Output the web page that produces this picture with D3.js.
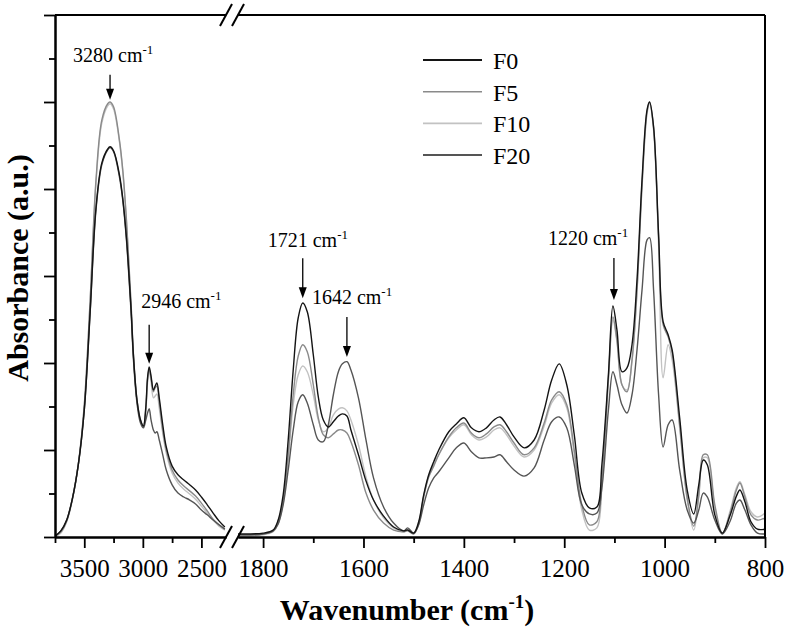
<!DOCTYPE html>
<html><head><meta charset="utf-8">
<script src="https://cdn.jsdelivr.net/npm/d3@7"></script>
<style>
body{margin:0;background:#fff;}
svg{display:block;}
text{font-family:"Liberation Serif","Times New Roman",serif;fill:#000;}
</style>
</head><body><svg id="chart" width="789" height="630"></svg>
<script>
// ---------- DATA ----------
const wnLeft = [3750,3700,3650,3600,3550,3500,3450,3400,3350,3300,3280,3250,3200,3170,3140,3120,3100,3080,3050,3020,2995,2975,2960,2946,2930,2910,2895,2880,2860,2830,2800,2750,2700,2650,2600,2550,2500,2450,2400,2350,2300];
const f0Left  = [0.002,0.014,0.039,0.090,0.168,0.292,0.518,0.757,0.860,0.892,0.897,0.888,0.833,0.775,0.688,0.610,0.522,0.416,0.315,0.269,0.255,0.297,0.366,0.391,0.370,0.338,0.347,0.354,0.320,0.258,0.207,0.163,0.143,0.131,0.120,0.108,0.092,0.074,0.055,0.037,0.023];
const f5Left  = [0.002,0.012,0.037,0.090,0.170,0.304,0.545,0.821,0.959,0.996,1.000,0.989,0.913,0.840,0.729,0.633,0.534,0.419,0.315,0.269,0.255,0.292,0.361,0.386,0.366,0.334,0.343,0.347,0.311,0.246,0.200,0.154,0.131,0.117,0.106,0.094,0.078,0.060,0.041,0.028,0.018];
const f10Left = [0.000,0.009,0.035,0.087,0.168,0.301,0.541,0.814,0.952,0.991,0.996,0.984,0.909,0.835,0.725,0.628,0.529,0.414,0.313,0.267,0.253,0.288,0.354,0.380,0.357,0.320,0.324,0.329,0.297,0.239,0.193,0.147,0.124,0.110,0.099,0.087,0.071,0.055,0.039,0.025,0.016];
const f20Left = [0.002,0.014,0.039,0.090,0.168,0.292,0.515,0.752,0.856,0.890,0.895,0.886,0.828,0.771,0.683,0.603,0.515,0.407,0.308,0.262,0.251,0.269,0.285,0.295,0.269,0.246,0.239,0.242,0.223,0.189,0.154,0.120,0.101,0.092,0.085,0.076,0.062,0.051,0.039,0.028,0.018];

const wnRight = [1850,1800,1780,1770,1760,1750,1740,1730,1721,1712,1700,1690,1680,1670,1660,1650,1642,1633,1625,1610,1595,1580,1560,1540,1520,1512,1500,1490,1480,1470,1460,1450,1430,1415,1400,1385,1370,1355,1340,1328,1315,1300,1280,1260,1240,1225,1210,1195,1180,1165,1150,1135,1125,1112,1103,1095,1085,1075,1065,1055,1045,1035,1030,1022,1012,1003,993,985,970,955,942,932,923,915,900,885,870,857,850,840,828,815,800];
const f0Right = [0.007,0.009,0.016,0.039,0.097,0.223,0.384,0.504,0.538,0.518,
  0.419,0.322,0.269,0.253,0.265,0.278,0.283,0.278,0.246,0.189,
  0.129,0.085,0.048,0.023,0.014,0.016,0.009,0.035,0.097,0.143,
  0.173,0.200,0.242,0.260,0.274,0.251,0.242,0.251,0.269,0.276,
  0.258,0.230,0.205,0.223,0.292,0.361,0.398,0.350,0.235,0.101,
  0.067,0.069,0.166,0.373,0.531,0.476,0.380,0.389,0.442,0.591,
  0.821,0.982,1.000,0.943,0.695,0.495,0.465,0.430,0.274,0.108,
  0.053,0.120,0.177,0.166,0.051,0.009,0.048,0.094,0.108,0.081,
  0.035,0.018,0.018];
const f5Right = [0.005,0.007,0.014,0.035,0.085,0.189,0.327,0.416,0.442,0.426,
  0.350,0.274,0.235,0.228,0.237,0.246,0.246,0.239,0.219,0.166,
  0.101,0.062,0.032,0.016,0.012,0.014,0.007,0.030,0.092,0.138,
  0.163,0.189,0.230,0.251,0.262,0.239,0.228,0.237,0.253,0.258,
  0.242,0.216,0.189,0.205,0.262,0.315,0.334,0.304,0.200,0.074,
  0.028,0.035,0.131,0.366,0.506,0.453,0.350,0.334,0.407,0.568,
  0.810,0.978,1.000,0.941,0.688,0.488,0.460,0.423,0.258,0.090,
  0.025,0.097,0.189,0.189,0.074,0.009,0.053,0.108,0.124,0.092,
  0.051,0.039,0.044];
const f10Right = [0.002,0.005,0.012,0.030,0.078,0.177,0.304,0.373,0.393,0.380,
  0.327,0.269,0.242,0.251,0.281,0.294,0.297,0.290,0.269,0.212,
  0.138,0.085,0.044,0.021,0.012,0.018,0.007,0.032,0.094,0.140,
  0.166,0.189,0.228,0.246,0.258,0.235,0.223,0.230,0.246,0.251,
  0.235,0.209,0.184,0.200,0.255,0.308,0.327,0.297,0.189,0.062,
  0.016,0.021,0.113,0.357,0.499,0.449,0.350,0.338,0.403,0.564,
  0.803,0.973,0.996,0.936,0.672,0.366,0.442,0.407,0.251,0.085,
  0.016,0.090,0.182,0.182,0.067,0.007,0.058,0.113,0.127,0.097,
  0.058,0.046,0.055];
const f20Right = [0.005,0.007,0.014,0.030,0.074,0.154,0.246,0.311,0.327,0.308,
  0.258,0.223,0.219,0.258,0.327,0.380,0.398,0.403,0.384,0.320,
  0.223,0.136,0.069,0.032,0.014,0.021,0.009,0.028,0.074,0.113,
  0.136,0.150,0.182,0.205,0.216,0.196,0.182,0.182,0.184,0.189,
  0.173,0.154,0.140,0.159,0.223,0.265,0.276,0.251,0.166,0.074,
  0.053,0.055,0.113,0.292,0.380,0.350,0.304,0.285,0.327,0.430,
  0.568,0.683,0.688,0.568,0.327,0.207,0.258,0.269,0.154,0.062,
  0.032,0.062,0.101,0.092,0.039,0.007,0.035,0.078,0.085,0.062,
  0.028,0.009,0.007];

const seriesNames = ["F0","F5","F10","F20"];
const seriesColors = ["#141414","#8a8a8a","#c2c2c2","#555555"];

const yMajorTicks = [0,0.2,0.4,0.6,0.8,1.0,1.2];
const yMinorTicks = [0.1,0.3,0.5,0.7,0.9,1.1];
const xLeftMajor = [3500,3000,2500];
const xLeftMinor = [3750,3250,2750];
const xRightMajor = [1800,1600,1400,1200,1000,800];
const xRightMinor = [1700,1500,1300,1100,900];

const annLabels = ["3280","2946","1721","1642","1220"];
const annPanel  = ["L","L","R","R","R"];
const annWn     = [3280,2946,1721,1633,1101];
const annTipA   = [1.005,0.398,0.549,0.414,0.545];

// ---------- LAYOUT ----------
const svg = d3.select("#chart");
const plotTop = 15, plotBottom = 537;
const y = d3.scaleLinear().domain([0,1.2]).range([plotBottom, plotTop]);
const xL = d3.scaleLinear().domain([3750,2290]).range([55,226]);
const xR = d3.scaleLinear().domain([1850,800]).range([238,765]);

const leftData = [f0Left,f5Left,f10Left,f20Left];
const rightData = [f0Right,f5Right,f10Right,f20Right];

const defs = svg.append("defs");
defs.append("clipPath").attr("id","clipL").append("rect").attr("x",55).attr("y",plotTop).attr("width",171).attr("height",plotBottom-plotTop);
defs.append("clipPath").attr("id","clipR").append("rect").attr("x",238).attr("y",plotTop).attr("width",527).attr("height",plotBottom-plotTop);

function mkLine(xs){
  return d3.line().x(d=>xs(d[0])).y(d=>y(d[1])).curve(d3.curveCatmullRom.alpha(0.5));
}
const drawOrder = [2,1,3,0];
const gL = svg.append("g").attr("clip-path","url(#clipL)");
const gR = svg.append("g").attr("clip-path","url(#clipR)");
drawOrder.forEach(i=>{
  gL.append("path").datum(wnLeft.map((w,k)=>[w,leftData[i][k]]))
    .attr("d",mkLine(xL)).attr("fill","none").attr("stroke",seriesColors[i]).attr("stroke-width",1.4);
  gR.append("path").datum(wnRight.map((w,k)=>[w,rightData[i][k]]))
    .attr("d",mkLine(xR)).attr("fill","none").attr("stroke",seriesColors[i]).attr("stroke-width",1.4);
});

// ---------- AXES ----------
function styleAxis(g){
  g.selectAll("path.domain").attr("stroke","#000").attr("stroke-width",2);
  g.selectAll(".tick line").attr("stroke","#000").attr("stroke-width",1.8);
  g.selectAll(".tick text").style("font-family",'"Liberation Serif","Times New Roman",serif').style("font-size","25px").attr("fill","#000");
}
[[xL,xLeftMajor,xLeftMinor],[xR,xRightMajor,xRightMinor]].forEach(([xs,maj,min])=>{
  const gMaj = svg.append("g").attr("transform",`translate(0,${plotBottom})`)
    .call(d3.axisBottom(xs).tickValues(maj).tickSize(11).tickSizeOuter(0).tickPadding(11).tickFormat(d3.format("d")));
  styleAxis(gMaj);
  const gMin = svg.append("g").attr("transform",`translate(0,${plotBottom})`)
    .call(d3.axisBottom(xs).tickValues(min).tickSize(6).tickSizeOuter(0).tickFormat(""));
  styleAxis(gMin);
});
const gyMaj = svg.append("g").attr("transform","translate(55,0)")
  .call(d3.axisLeft(y).tickValues(yMajorTicks).tickSize(11).tickSizeOuter(0).tickFormat(""));
styleAxis(gyMaj);
const gyMin = svg.append("g").attr("transform","translate(55,0)")
  .call(d3.axisLeft(y).tickValues(yMinorTicks).tickSize(6).tickSizeOuter(0).tickFormat(""));
styleAxis(gyMin);

// top and right frame
const frame = svg.append("g").attr("stroke","#000").attr("stroke-width",2).attr("fill","none");
frame.append("line").attr("x1",xL.range()[0]).attr("x2",xL.range()[1]).attr("y1",plotTop).attr("y2",plotTop);
frame.append("line").attr("x1",xR.range()[0]).attr("x2",xR.range()[1]).attr("y1",plotTop).attr("y2",plotTop);
frame.append("line").attr("x1",xR.range()[1]).attr("x2",xR.range()[1]).attr("y1",plotTop).attr("y2",plotBottom);

// break marks
[xL.range()[1], xR.range()[0]].forEach(bx=>{
  [plotTop, plotBottom].forEach(by=>{
    frame.append("line").attr("x1",bx-6).attr("y1",by+11).attr("x2",bx+6).attr("y2",by-11).attr("stroke-width",2);
  });
});

// ---------- AXIS TITLES ----------
const xt = svg.append("text").attr("x",407).attr("y",620).attr("text-anchor","middle")
  .style("font-size","30px").style("font-weight","bold");
xt.append("tspan").text("Wavenumber (cm");
xt.append("tspan").attr("dy",-12).style("font-size","19px").text("-1");
xt.append("tspan").attr("dy",12).text(")");

svg.append("text").attr("transform","translate(28,268) rotate(-90)").attr("text-anchor","middle")
  .style("font-size","30px").style("font-weight","bold").text("Absorbance (a.u.)");

// ---------- ANNOTATIONS ----------
const annTail = [25,39,40,40,42];
const annDx = [-37,-8,-35,-35,-66];
const annDy = [-13,-17,-11,-13,-13];
const ann = svg.append("g");
annLabels.forEach((lab,i)=>{
  const xs = annPanel[i]==="L" ? xL : xR;
  const ax = xs(annWn[i]);
  const tipY = y(annTipA[i]);
  const tailY = tipY - annTail[i];
  ann.append("line").attr("x1",ax).attr("x2",ax).attr("y1",tailY).attr("y2",tipY-8)
    .attr("stroke","#000").attr("stroke-width",1.3);
  ann.append("path").attr("d",`M${ax-4},${tipY-11} L${ax+4},${tipY-11} L${ax},${tipY} Z`).attr("fill","#000");
  const t = ann.append("text").attr("x",ax+annDx[i]).attr("y",tailY+annDy[i]).style("font-size","20px");
  t.append("tspan").text(lab+" cm");
  t.append("tspan").attr("dy",-8).style("font-size","13px").text("-1");
});

// ---------- LEGEND ----------
const lg = svg.append("g");
seriesNames.forEach((n,i)=>{
  const ly = 60 + i*31.7;
  lg.append("line").attr("x1",423).attr("x2",482).attr("y1",ly).attr("y2",ly)
    .attr("stroke",seriesColors[i]).attr("stroke-width",(i===0||i===3)?2:1.6);
  lg.append("text").attr("x",493).attr("y",ly+9).style("font-size","24px").text(n);
});
</script>
</body></html>
